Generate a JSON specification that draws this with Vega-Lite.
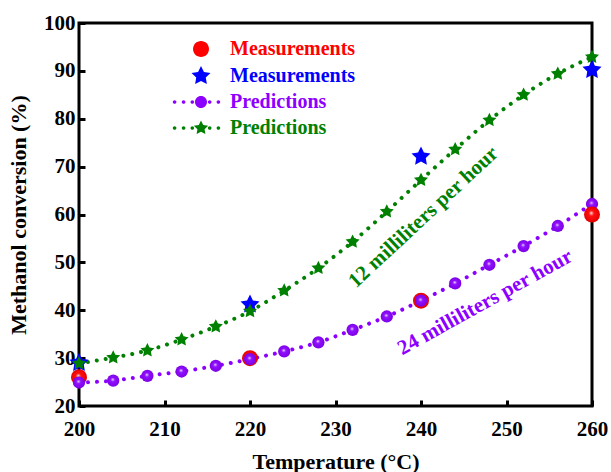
{
  "$schema": "https://vega.github.io/schema/vega-lite/v6.json",
  "width": 513,
  "height": 383,
  "autosize": "none",
  "padding": {"left": 79, "top": 23, "right": 19, "bottom": 66},
  "background": "white",
  "config": {
    "view": {"stroke": "black", "strokeWidth": 3},
    "font": "Liberation Serif",
    "axis": {
      "domain": false,
      "grid": false,
      "ticks": true,
      "tickColor": "black",
      "tickWidth": 3,
      "tickSize": -6,
      "labelFlush": false,
      "labelFont": "Liberation Serif",
      "labelFontSize": 21,
      "labelFontWeight": "bold",
      "labelColor": "black",
      "titleFont": "Liberation Serif",
      "titleFontSize": 22,
      "titleFontWeight": "bold",
      "titleColor": "black"
    }
  },
  "data": {
    "values": [
      {"T": 200, "conv": 26, "series": "m24"},
      {"T": 220, "conv": 30, "series": "m24"},
      {"T": 240, "conv": 42, "series": "m24"},
      {"T": 260, "conv": 60, "series": "m24"},
      {"T": 200, "conv": 29, "series": "m12"},
      {"T": 220, "conv": 41.2, "series": "m12"},
      {"T": 240, "conv": 72.1, "series": "m12"},
      {"T": 260, "conv": 90.2, "series": "m12"},
      {"T": 200, "conv": 24.9, "series": "p24"},
      {"T": 204, "conv": 25.3, "series": "p24"},
      {"T": 208, "conv": 26.3, "series": "p24"},
      {"T": 212, "conv": 27.2, "series": "p24"},
      {"T": 216, "conv": 28.4, "series": "p24"},
      {"T": 220, "conv": 29.8, "series": "p24"},
      {"T": 224, "conv": 31.4, "series": "p24"},
      {"T": 228, "conv": 33.3, "series": "p24"},
      {"T": 232, "conv": 35.9, "series": "p24"},
      {"T": 236, "conv": 38.7, "series": "p24"},
      {"T": 240, "conv": 42, "series": "p24"},
      {"T": 244, "conv": 45.6, "series": "p24"},
      {"T": 248, "conv": 49.5, "series": "p24"},
      {"T": 252, "conv": 53.4, "series": "p24"},
      {"T": 256, "conv": 57.6, "series": "p24"},
      {"T": 260, "conv": 62.2, "series": "p24"},
      {"T": 200, "conv": 28.9, "series": "p12"},
      {"T": 204, "conv": 30.1, "series": "p12"},
      {"T": 208, "conv": 31.6, "series": "p12"},
      {"T": 212, "conv": 33.9, "series": "p12"},
      {"T": 216, "conv": 36.6, "series": "p12"},
      {"T": 220, "conv": 39.8, "series": "p12"},
      {"T": 224, "conv": 44.1, "series": "p12"},
      {"T": 228, "conv": 48.8, "series": "p12"},
      {"T": 232, "conv": 54.3, "series": "p12"},
      {"T": 236, "conv": 60.6, "series": "p12"},
      {"T": 240, "conv": 67.2, "series": "p12"},
      {"T": 244, "conv": 73.6, "series": "p12"},
      {"T": 248, "conv": 79.7, "series": "p12"},
      {"T": 252, "conv": 85, "series": "p12"},
      {"T": 256, "conv": 89.4, "series": "p12"},
      {"T": 260, "conv": 92.9, "series": "p12"}
    ]
  },
  "encoding": {
    "x": {
      "field": "T", "type": "quantitative",
      "scale": {"domain": [200, 260], "nice": false, "zero": false},
      "axis": {"values": [200, 210, 220, 230, 240, 250, 260], "title": "Temperature (°C)", "labelPadding": 18, "titlePadding": 12}
    },
    "y": {
      "field": "conv", "type": "quantitative",
      "scale": {"domain": [20, 100], "nice": false, "zero": false},
      "axis": {"values": [20, 30, 40, 50, 60, 70, 80, 90, 100], "title": "Methanol conversion (%)", "labelPadding": 10, "titlePadding": 13}
    }
  },
  "layer": [
    {
      "transform": [{"filter": "datum.series == 'p24' || datum.series == 'p12'"}],
      "mark": {"type": "line", "strokeWidth": 4, "strokeDash": [0.01, 9], "strokeCap": "round", "interpolate": "monotone", "clip": false},
      "encoding": {
        "detail": {"field": "series"},
        "stroke": {
          "field": "series", "type": "nominal",
          "scale": {"domain": ["p24", "p12"], "range": ["#8C00FF", "#008000"]},
          "legend": null
        }
      }
    },
    {
      "mark": {"type": "point", "filled": true, "opacity": 0, "size": 100, "clip": false},
      "encoding": {
        "color": {
          "field": "series", "type": "nominal",
          "scale": {"domain": ["m24", "m12", "p24", "p12"], "range": ["#FF0000", "#0000FF", "#8C00FF", "#008000"]},
          "legend": {
            "title": null,
            "orient": "none",
            "legendX": 112,
            "legendY": 16,
            "padding": 0,
            "symbolSize": 144,
            "symbolOpacity": 1,
            "labelFont": "Liberation Serif",
            "labelFontSize": 20,
            "labelFontWeight": "bold",
            "labelOffset": 19,
            "rowPadding": 6,
            "labelExpr": "datum.value == 'm24' || datum.value == 'm12' ? 'Measurements' : 'Predictions'",
            "labelColor": {"expr": "datum.value == 'm24' ? '#FF0000' : datum.value == 'm12' ? '#0000FF' : datum.value == 'p24' ? '#8C00FF' : '#008000'"},
            "symbolType": {"expr": "datum.value == 'm24' ? 'M-1.333,0a1.333,1.333 0 1,0 2.667,0a1.333,1.333 0 1,0 -2.667,0Z' : datum.value == 'm12' ? 'M0,-1.667L0.49,-0.675L1.585,-0.515L0.793,0.258L0.98,1.348L0,0.833L-0.98,1.348L-0.793,0.258L-1.585,-0.515L-0.49,-0.675Z' : datum.value == 'p24' ? 'M-1,0a1,1 0 1,0 2,0a1,1 0 1,0 -2,0ZM-4.7,0a0.3,0.3 0 1,0 0.6,0a0.3,0.3 0 1,0 -0.6,0ZM-3.2,0a0.3,0.3 0 1,0 0.6,0a0.3,0.3 0 1,0 -0.6,0ZM-1.75,0a0.3,0.3 0 1,0 0.6,0a0.3,0.3 0 1,0 -0.6,0ZM1.15,0a0.3,0.3 0 1,0 0.6,0a0.3,0.3 0 1,0 -0.6,0ZM2.6,0a0.3,0.3 0 1,0 0.6,0a0.3,0.3 0 1,0 -0.6,0Z' : 'M0,-1.25L0.368,-0.506L1.189,-0.386L0.595,0.194L0.735,1.011L0,0.625L-0.735,1.011L-0.595,0.194L-1.189,-0.386L-0.368,-0.506ZM-4.7,0a0.3,0.3 0 1,0 0.6,0a0.3,0.3 0 1,0 -0.6,0ZM-3.2,0a0.3,0.3 0 1,0 0.6,0a0.3,0.3 0 1,0 -0.6,0ZM-1.75,0a0.3,0.3 0 1,0 0.6,0a0.3,0.3 0 1,0 -0.6,0ZM1.15,0a0.3,0.3 0 1,0 0.6,0a0.3,0.3 0 1,0 -0.6,0ZM2.6,0a0.3,0.3 0 1,0 0.6,0a0.3,0.3 0 1,0 -0.6,0Z'"}
          }
        }
      }
    },
    {
      "transform": [{"filter": "datum.series == 'm24' && datum.T < 260"}],
      "mark": {"type": "point", "shape": "circle", "size": 256, "filled": true, "opacity": 1, "clip": false,
        "fill": {"gradient": "radial", "x1": 0.45, "y1": 0.4, "r1": 0, "x2": 0.5, "y2": 0.5, "r2": 0.55,
          "stops": [{"offset": 0, "color": "#FFE8E8"}, {"offset": 0.3, "color": "#FF1010"}, {"offset": 1, "color": "#E00000"}]}}
    },
    {
      "transform": [{"filter": "datum.series == 'm12' && datum.T < 260"}],
      "mark": {"type": "point", "shape": "M0,-1L0.294,-0.405L0.951,-0.309L0.476,0.155L0.588,0.809L0,0.5L-0.588,0.809L-0.476,0.155L-0.951,-0.309L-0.294,-0.405Z", "size": 400, "filled": true, "opacity": 1, "color": "#0000FF", "clip": false}
    },
    {
      "transform": [{"filter": "datum.series == 'p24'"}],
      "mark": {"type": "point", "shape": "circle", "size": 150, "filled": true, "opacity": 1, "clip": false,
        "fill": {"gradient": "radial", "x1": 0.45, "y1": 0.4, "r1": 0, "x2": 0.5, "y2": 0.5, "r2": 0.55,
          "stops": [{"offset": 0, "color": "#F4E8FF"}, {"offset": 0.3, "color": "#9010FF"}, {"offset": 1, "color": "#7A00E0"}]}}
    },
    {
      "transform": [{"filter": "datum.series == 'p12'"}],
      "mark": {"type": "point", "shape": "M0,-1L0.294,-0.405L0.951,-0.309L0.476,0.155L0.588,0.809L0,0.5L-0.588,0.809L-0.476,0.155L-0.951,-0.309L-0.294,-0.405Z", "size": 217, "filled": true, "opacity": 1, "color": "#008000", "clip": false}
    },
    {
      "transform": [{"filter": "datum.series == 'm24' && datum.T == 260"}],
      "mark": {"type": "point", "shape": "circle", "size": 256, "filled": true, "opacity": 1, "clip": false,
        "fill": {"gradient": "radial", "x1": 0.45, "y1": 0.4, "r1": 0, "x2": 0.5, "y2": 0.5, "r2": 0.55,
          "stops": [{"offset": 0, "color": "#FFE8E8"}, {"offset": 0.3, "color": "#FF1010"}, {"offset": 1, "color": "#E00000"}]}}
    },
    {
      "transform": [{"filter": "datum.series == 'm12' && datum.T == 260"}],
      "mark": {"type": "point", "shape": "M0,-1L0.294,-0.405L0.951,-0.309L0.476,0.155L0.588,0.809L0,0.5L-0.588,0.809L-0.476,0.155L-0.951,-0.309L-0.294,-0.405Z", "size": 400, "filled": true, "opacity": 1, "color": "#0000FF", "clip": false}
    },
    {
      "data": {"values": [{"T": 240.3, "conv": 59.4, "label": "12 milliliters per hour"}]},
      "mark": {"type": "text", "angle": -43, "align": "center", "baseline": "middle", "font": "Liberation Serif", "fontSize": 21, "fontWeight": "bold", "color": "#008000"},
      "encoding": {"text": {"field": "label"}}
    },
    {
      "data": {"values": [{"T": 247.5, "conv": 41.6, "label": "24 milliliters per hour"}]},
      "mark": {"type": "text", "angle": -29, "align": "center", "baseline": "middle", "font": "Liberation Serif", "fontSize": 21, "fontWeight": "bold", "color": "#8C00FF"},
      "encoding": {"text": {"field": "label"}}
    }
  ]
}
